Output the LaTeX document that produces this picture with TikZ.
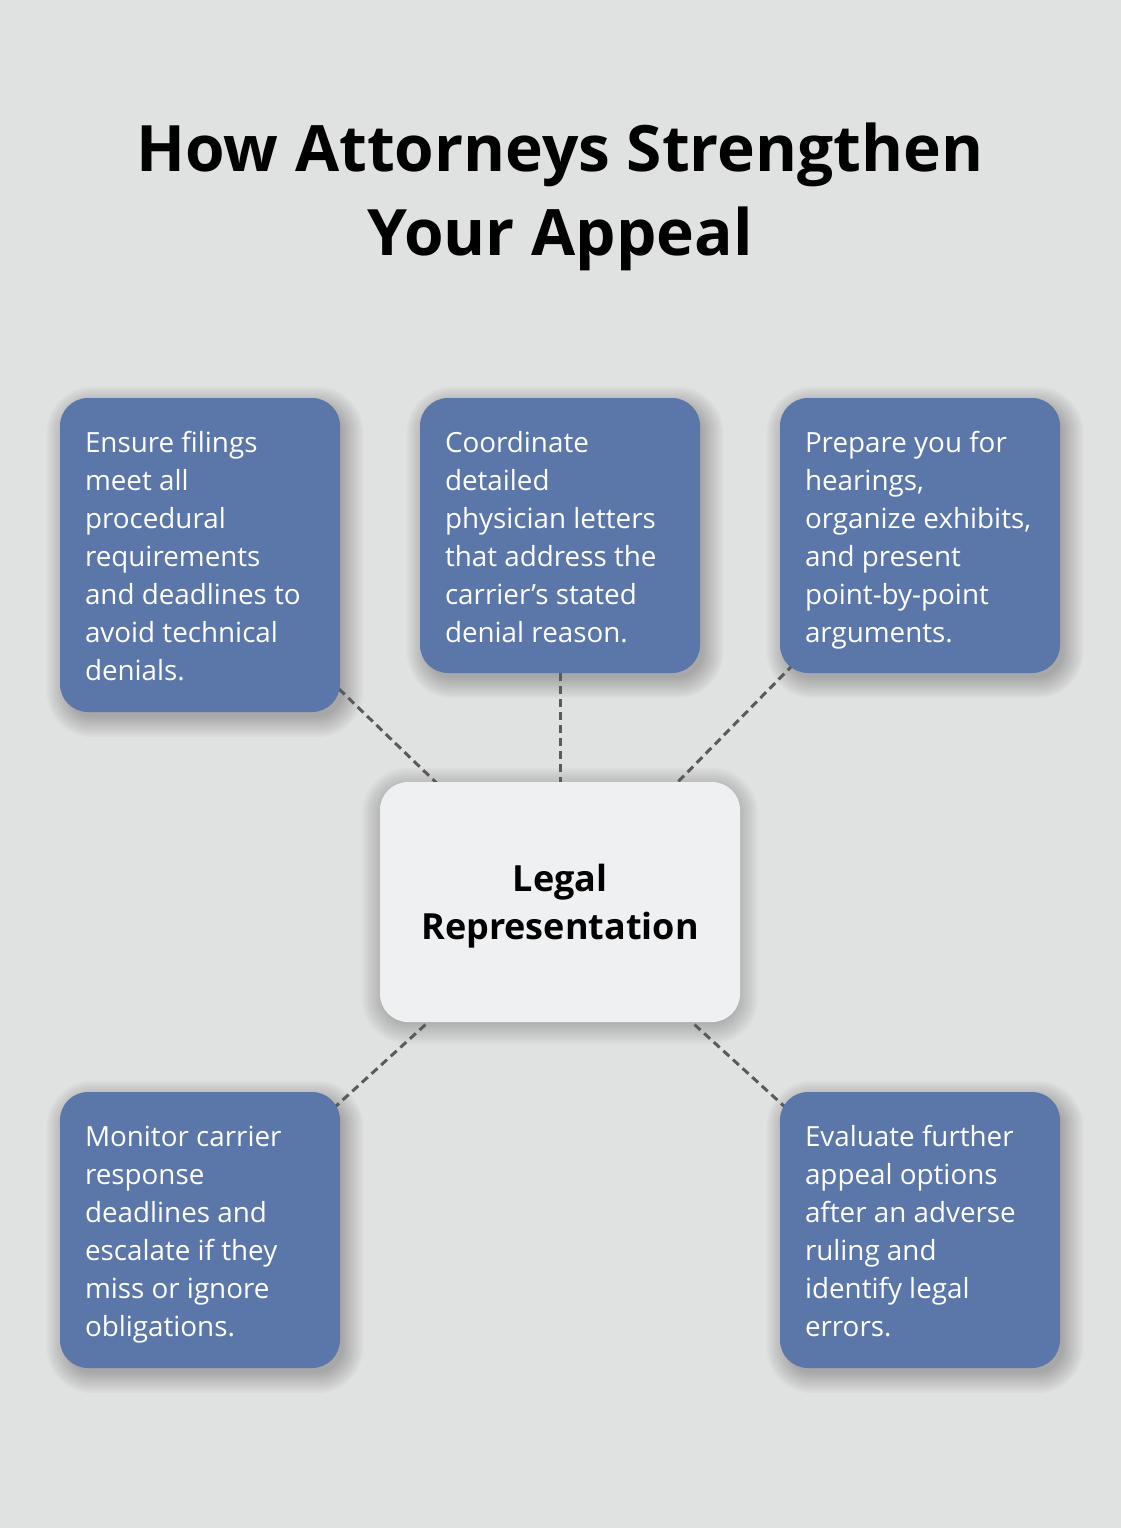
\documentclass[tikz,border=0pt]{standalone}
\usepackage{fontspec}
\setmainfont{Open Sans}
\usetikzlibrary{calc,backgrounds}
\definecolor{bgc}{HTML}{E0E2E1}
\definecolor{boxblue}{HTML}{5B76A8}
\definecolor{centerc}{HTML}{EFF0F2}
\definecolor{dashc}{HTML}{5A5A5A}
\newcommand{\mysoftshadow}[4]{%
  \foreach \s [evaluate=\s as \r using 28+\s] in {-2,0,...,18}
    \fill[black,opacity=#4,rounded corners=\r pt]
      ($(#1.south west)+(#2-\s,#3+\s)$) rectangle ($(#1.north east)+(#2+\s,#3-\s)$);}
\begin{document}
\begin{tikzpicture}[x=1pt,y=-1pt,
  card/.style={rounded corners=28pt, fill=boxblue, minimum width=280pt, inner sep=0pt},
  cardtext/.style={anchor=north west, align=left, inner sep=0pt, text=white,
    font=\fontsize{27.8}{38}\selectfont},
  hub/.style={rounded corners=28pt, fill=centerc, minimum width=360pt, minimum height=240pt,
    inner sep=0pt},
  hubtext/.style={inner sep=0pt, align=center, font=\bfseries\fontsize{36}{48}\selectfont},
  conn/.style={draw=dashc, line width=3pt, dash pattern=on 8pt off 5pt},
  titlef/.style={font=\bfseries\fontsize{64}{84}\selectfont, anchor=base, inner sep=0pt}
]
\path[use as bounding box] (0,0) rectangle (1120,1528);

\node[titlef] (title1) at (560,171) {How Attorneys Strengthen};
\node[titlef] (title2) at (560,255) {Your Appeal};

\node[hub] (hub) at (560,902) {};
\node[hubtext] (hubt) at ([yshift=-4.5pt]hub.center) {Legal\\Representation};

\node[card, minimum height=314pt] (b1) at (200,555) {};
\node[cardtext] (t1) at ($(b1.north west)+(25,27.4)$) {\strut Ensure filings\\meet all\\procedural\\requirements\\and deadlines to\\avoid technical\\denials.};

\node[card, minimum height=275pt] (b2) at (560,535.5) {};
\node[cardtext] (t2) at ($(b2.north west)+(25,27.4)$) {\strut Coordinate\\detailed\\physician letters\\that address the\\carrier’s stated\\denial reason.};

\node[card, minimum height=275pt] (b3) at (920,535.5) {};
\node[cardtext] (t3) at ($(b3.north west)+(25,27.4)$) {\strut Prepare you for\\hearings,\\organize exhibits,\\and present\\point-by-point\\arguments.};

\node[card, minimum height=276pt] (b4) at (200,1230) {};
\node[cardtext] (t4) at ($(b4.north west)+(25,27.4)$) {\strut Monitor carrier\\response\\deadlines and\\escalate if they\\miss or ignore\\obligations.};

\node[card, minimum height=276pt] (b5) at (920,1230) {};
\node[cardtext] (t5) at ($(b5.north west)+(25,27.4)$) {\strut Evaluate further\\appeal options\\after an adverse\\ruling and\\identify legal\\errors.};

\begin{pgfonlayer}{background}
\fill[bgc] (-10,-10) rectangle (1130,1538);
\mysoftshadow{hub}{0}{4}{0.018}
\mysoftshadow{b1}{5}{7}{0.022}
\mysoftshadow{b2}{5}{7}{0.022}
\mysoftshadow{b3}{5}{7}{0.022}
\mysoftshadow{b4}{5}{7}{0.022}
\mysoftshadow{b5}{5}{7}{0.022}
\draw[conn] (hub.center) -- (b1.center);
\draw[conn] (hub.center) -- (b2.center);
\draw[conn] (hub.center) -- (b3.center);
\draw[conn] (hub.center) -- (b4.center);
\draw[conn] (hub.center) -- (b5.center);
\end{pgfonlayer}
\end{tikzpicture}
\end{document}
